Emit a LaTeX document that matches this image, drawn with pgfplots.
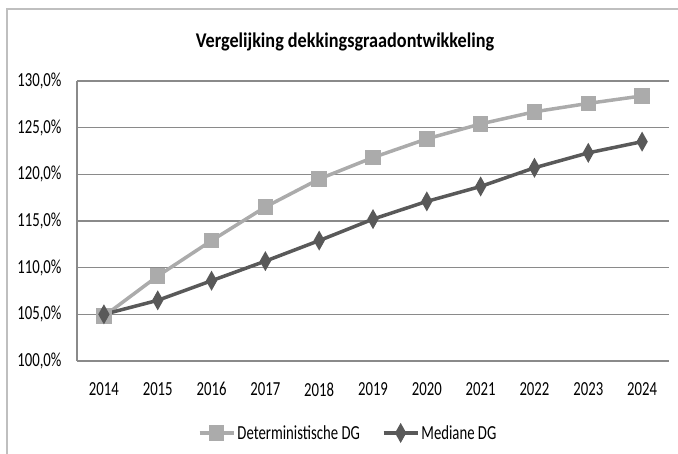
\documentclass[border=0pt]{standalone}
\usepackage{fontspec}
\setmainfont{Carlito}[FakeStretch=0.74]
\newfontfamily\titlefont{Carlito}[FakeStretch=0.87]
\usepackage{pgfplots}
\pgfplotsset{compat=1.18}
\definecolor{detc}{HTML}{ABABAB}
\definecolor{medc}{HTML}{595959}
\definecolor{gridc}{HTML}{8A8A8A}
\definecolor{framec}{HTML}{BFBFBF}
\begin{document}
\begin{tikzpicture}[x=1bp,y=1bp]
\useasboundingbox (0,0) rectangle (678,454);
\draw[framec, line width=1.2bp] (7,-20) -- (7,445) -- (700,445);
\node[font=\titlefont\fontsize{21}{21}\selectfont\bfseries] at (345,412) {Vergelijking dekkingsgraadontwikkeling};
\begin{axis}[
  at={(77bp,93bp)}, anchor=south west,
  scale only axis, width=592bp, height=280bp,
  xmin=2013.5, xmax=2024.5, ymin=100, ymax=130,
  xtick={2014,2015,2016,2017,2018,2019,2020,2021,2022,2023,2024},
  xticklabels={2014,2015,2016,2017,2018,2019,2020,2021,2022,2023,2024},
  ytick={100,105,110,115,120,125,130},
  yticklabels={{100,0\%},{105,0\%},{110,0\%},{115,0\%},{120,0\%},{125,0\%},{130,0\%}},
  axis x line*=bottom, axis y line*=left,
  x axis line style={gridc, line width=1.6bp, -},
  y axis line style={gridc, line width=1.2bp, -},
  ymajorgrids, major grid style={gridc, line width=1.1bp},
  major tick length=0pt,
  tick label style={font=\fontsize{20}{20}\selectfont, black},
  yticklabel style={xshift=-12bp},
  xticklabel style={yshift=-18bp},
  clip=false,
  legend columns=2,
  legend style={at={(axis description cs:0.458,-0.257)}, anchor=center, draw=none, fill=none,
    font=\fontsize{20}{20}\selectfont, inner sep=0pt,
    /tikz/every even column/.append style={column sep=20bp}},
  legend image code/.code={\draw[mark repeat=2,mark phase=2,#1] plot coordinates {(0bp,0bp) (17bp,0bp) (34bp,0bp)};},
]
\addplot[detc, line width=3.5bp, mark=square*, mark size=6bp, mark options={solid, detc}]
  coordinates {(2014,104.8) (2015,109.1) (2016,112.9) (2017,116.5) (2018,119.5) (2019,121.8) (2020,123.8) (2021,125.4) (2022,126.7) (2023,127.6) (2024,128.4)};
\addlegendentry{Deterministische DG}
\addplot[medc, line width=3.5bp, mark=diamond*, mark size=6.5bp, mark options={solid, medc, xscale=0.75}]
  coordinates {(2014,105.0) (2015,106.5) (2016,108.6) (2017,110.7) (2018,112.9) (2019,115.2) (2020,117.1) (2021,118.7) (2022,120.7) (2023,122.3) (2024,123.5)};
\addlegendentry{Mediane DG}
\end{axis}
\end{tikzpicture}
\end{document}
